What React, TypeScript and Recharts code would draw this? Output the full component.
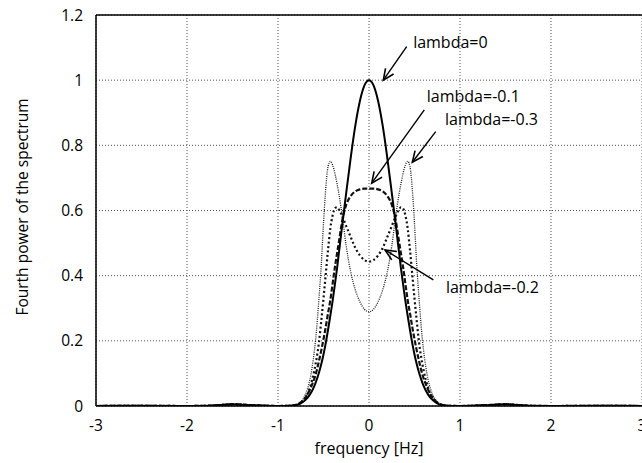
/** Fourth power of the spectrum for several lambda values */
import { LineChart, Line, XAxis, YAxis, CartesianGrid, ReferenceLine, ReferenceDot, Label } from 'recharts'

const freq = [
  -3, -2.5, -2, -1.75, -1.5, -1.25, -1, -0.9, -0.8, -0.75,
  -0.7, -0.65, -0.6, -0.586, -0.55, -0.525, -0.5, -0.48, -0.45, -0.425,
  -0.4, -0.37, -0.35, -0.33, -0.29, -0.25, -0.2, -0.15, -0.1, -0.05,
  0,
  0.05, 0.1, 0.15, 0.2, 0.25, 0.29, 0.33, 0.35, 0.37, 0.4,
  0.425, 0.45, 0.48, 0.5, 0.525, 0.55, 0.586, 0.6, 0.65, 0.7,
  0.75, 0.8, 0.9, 1, 1.25, 1.5, 1.75, 2, 2.5, 3,
]

// lambda = 0 (solid)
const lambda0 = [
  0, 0.0005, 0, 0.001, 0.005, 0.002, 0, 0.0002, 0.003, 0.008,
  0.018, 0.035, 0.062, 0.072, 0.102, 0.128, 0.158, 0.186, 0.234, 0.277,
  0.322, 0.383, 0.425, 0.472, 0.565, 0.655, 0.764, 0.861, 0.936, 0.984,
  1.0,
  0.984, 0.936, 0.861, 0.764, 0.655, 0.565, 0.472, 0.425, 0.383, 0.322,
  0.277, 0.234, 0.186, 0.158, 0.128, 0.102, 0.072, 0.062, 0.035, 0.018,
  0.008, 0.003, 0.0002, 0, 0.002, 0.005, 0.001, 0, 0.0005, 0,
]

// lambda = -0.1 (dashed)
const lambda01 = [
  0, 0.0005, 0, 0.001, 0.005, 0.002, 0, 0.0005, 0.004, 0.011,
  0.025, 0.05, 0.085, 0.097, 0.138, 0.17, 0.205, 0.235, 0.285, 0.325,
  0.375, 0.435, 0.47, 0.505, 0.575, 0.618, 0.645, 0.659, 0.665, 0.667,
  0.667,
  0.667, 0.665, 0.659, 0.645, 0.618, 0.575, 0.505, 0.47, 0.435, 0.375,
  0.325, 0.285, 0.235, 0.205, 0.17, 0.138, 0.097, 0.085, 0.05, 0.025,
  0.011, 0.004, 0.0005, 0, 0.002, 0.005, 0.001, 0, 0.0005, 0,
]

// lambda = -0.2 (heavy dots)
const lambda02 = [
  0, 0.0005, 0, 0.001, 0.005, 0.002, 0, 0.0005, 0.003, 0.009,
  0.024, 0.055, 0.11, 0.13, 0.195, 0.26, 0.33, 0.39, 0.48, 0.545,
  0.585, 0.608, 0.61, 0.603, 0.58, 0.552, 0.518, 0.485, 0.462, 0.448,
  0.443,
  0.448, 0.462, 0.485, 0.518, 0.552, 0.58, 0.603, 0.61, 0.608, 0.585,
  0.545, 0.48, 0.39, 0.33, 0.26, 0.195, 0.13, 0.11, 0.055, 0.024,
  0.009, 0.003, 0.0005, 0, 0.002, 0.005, 0.001, 0, 0.0005, 0,
]

// lambda = -0.3 (thin dots)
const lambda03 = [
  0, 0.0005, 0, 0.001, 0.005, 0.002, 0, 0.0005, 0.004, 0.013,
  0.035, 0.08, 0.17, 0.205, 0.33, 0.43, 0.56, 0.65, 0.735, 0.751,
  0.74, 0.708, 0.68, 0.65, 0.575, 0.49, 0.41, 0.356, 0.32, 0.297,
  0.289,
  0.297, 0.32, 0.356, 0.41, 0.49, 0.575, 0.65, 0.68, 0.708, 0.74,
  0.751, 0.735, 0.65, 0.56, 0.43, 0.33, 0.205, 0.17, 0.08, 0.035,
  0.013, 0.004, 0.0005, 0, 0.002, 0.005, 0.001, 0, 0.0005, 0,
]

const xTicks = [-3, -2, -1, 0, 1, 2, 3]
const yTicks = [0, 0.2, 0.4, 0.6, 0.8, 1, 1.2]

// text anchor (left, middle) and arrow from/to, in data units
const notes = [
  { text: 'lambda=0',    tx: 0.43, ty: 1.117, x1: 0.414, y1: 1.103, x2: 0.157, y2: 1.0 },
  { text: 'lambda=-0.1', tx: 0.58, ty: 0.951, x1: 0.608, y1: 0.909, x2: 0.03,  y2: 0.684 },
  { text: 'lambda=-0.3', tx: 0.78, ty: 0.881, x1: 0.733, y1: 0.842, x2: 0.476, y2: 0.748 },
  { text: 'lambda=-0.2', tx: 0.79, ty: 0.365, x1: 0.707, y1: 0.387, x2: 0.176, y2: 0.479 },
]

const data = freq.map((f, i) => ({
  f,
  l0: lambda0[i],
  l1: lambda01[i],
  l2: lambda02[i],
  l3: lambda03[i],
}))

const FONT = '"Open Sans", "Noto Sans", sans-serif'

// eslint-disable-next-line @typescript-eslint/no-explicit-any
function Arrow(p: any) {
  const { x1, y1, x2, y2 } = p
  const a = Math.atan2(y2 - y1, x2 - x1)
  const len = 12
  const w = 0.42
  const h1 = `${x2 - len * Math.cos(a - w)},${y2 - len * Math.sin(a - w)}`
  const h2 = `${x2 - len * Math.cos(a + w)},${y2 - len * Math.sin(a + w)}`
  return (
    <g>
      <line x1={x1} y1={y1} x2={x2} y2={y2} stroke="#000" strokeWidth={1.4} />
      <polyline points={`${h1} ${x2},${y2} ${h2}`} fill="none" stroke="#000" strokeWidth={1.6} />
    </g>
  )
}

export default function App() {
  return (
    <div style={{ position: 'absolute', left: 0, top: 0, background: '#fff' }}>
      <LineChart
        width={642}
        height={463}
        data={data}
        margin={{ top: 15, right: 0, bottom: 0, left: 0 }}
        style={{ fontFamily: FONT }}
      >
        <CartesianGrid stroke="#555" strokeDasharray="1 2" strokeWidth={1} />
        <XAxis
          dataKey="f"
          type="number"
          domain={[-3, 3]}
          ticks={xTicks}
          interval={0}
          height={57}
          tickLine={false}
          tickSize={6}
          tickMargin={8}
          axisLine={{ stroke: '#000', strokeWidth: 1.5 }}
          tick={{ fill: '#000', fontSize: 15.5 }}
          allowDataOverflow
        >
          <Label
            content={() => (
              <text x={369} y={454} textAnchor="middle" fontSize={16} fill="#000" fontFamily={FONT}>
                frequency [Hz]
              </text>
            )}
          />
        </XAxis>
        <YAxis
          type="number"
          domain={[0, 1.2]}
          ticks={yTicks}
          interval={0}
          width={96}
          tickLine={false}
          tickSize={6}
          tickMargin={7}
          axisLine={{ stroke: '#000', strokeWidth: 1.5 }}
          tick={{ fill: '#000', fontSize: 15.5 }}
          allowDataOverflow
        >
          <Label
            content={() => (
              <text
                x={22}
                y={207}
                transform="rotate(-90 22 207)"
                textAnchor="middle"
                dominantBaseline="central"
                fontSize={15.5}
                fill="#000"
                fontFamily={FONT}
              >
                Fourth power of the spectrum
              </text>
            )}
          />
        </YAxis>
        <ReferenceLine y={1.2} stroke="#000" strokeWidth={1.5} />
        <Line
          type="monotone"
          dataKey="l3"
          stroke="#1a1a1a"
          strokeWidth={1.3}
          strokeDasharray="1 1.2"
          dot={false}
          isAnimationActive={false}
        />
        <Line
          type="monotone"
          dataKey="l2"
          stroke="#111"
          strokeWidth={2.2}
          strokeDasharray="2 2.5"
          dot={false}
          isAnimationActive={false}
        />
        <Line
          type="monotone"
          dataKey="l1"
          stroke="#111"
          strokeWidth={2.2}
          strokeDasharray="5 2"
          dot={false}
          isAnimationActive={false}
        />
        <Line
          type="monotone"
          dataKey="l0"
          stroke="#000"
          strokeWidth={2}
          dot={false}
          isAnimationActive={false}
        />
        {notes.map(n => (
          <ReferenceLine
            key={n.text + 'a'}
            segment={[{ x: n.x1, y: n.y1 }, { x: n.x2, y: n.y2 }]}
            shape={Arrow}
            ifOverflow="visible"
          />
        ))}
        {notes.map(n => (
          <ReferenceDot
            key={n.text}
            x={n.tx}
            y={n.ty}
            r={0}
            fill="none"
            stroke="none"
            ifOverflow="visible"
            label={{ value: n.text, position: 'right', offset: 5, fill: '#000', fontSize: 16, fontFamily: FONT }}
          />
        ))}
      </LineChart>
    </div>
  )
}
